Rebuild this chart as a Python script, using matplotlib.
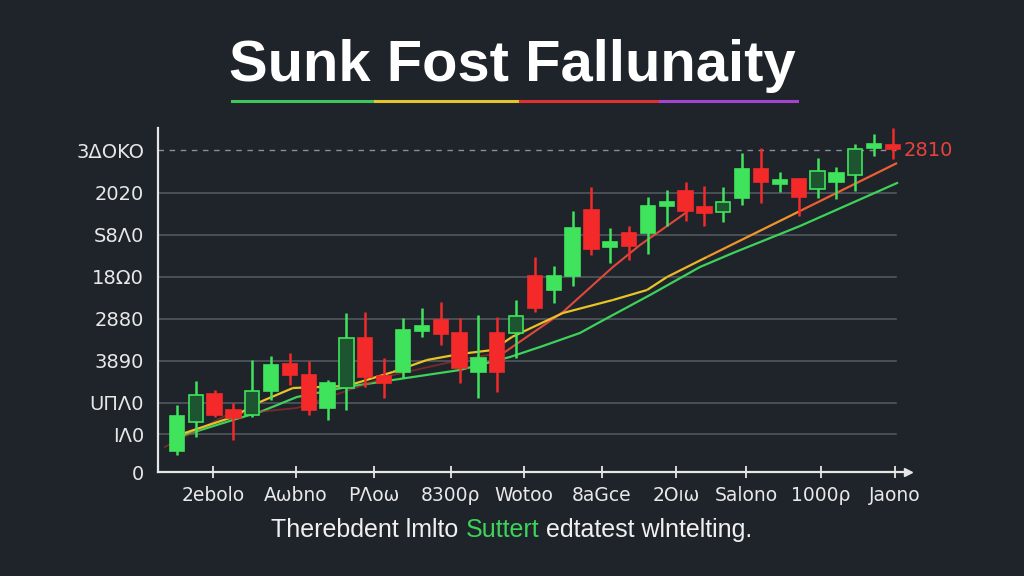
import numpy as np
import matplotlib
matplotlib.use('Agg')
import matplotlib.pyplot as plt
from matplotlib.collections import LineCollection
from matplotlib.lines import Line2D
from matplotlib.colors import LinearSegmentedColormap

# candle data (one candle per period)
opens = [210, 500, 780, 620, 570, 810, 1080, 970, 640, 840, 1340, 960, 1000, 1410, 1520, 1390, 1000, 1390, 1390,
         1960, 1820, 1960, 2620, 2250, 2390, 2390, 2670, 2810, 2650, 2600, 2740, 3030, 2890, 2930, 2830, 2900,
         2970, 3250, 3270]
highs = [670, 910, 820, 690, 1120, 1160, 1190, 1110, 920, 1590, 1600, 1140, 1540, 1640, 1700, 1540, 1570, 1550, 1720,
         2150, 2060, 2610, 2850, 2440, 2460, 2750, 2820, 2900, 2860, 2850, 3190, 3240, 3000, 2930, 3140, 3050,
         3280, 3380, 3440]
lows = [170, 350, 550, 320, 550, 720, 870, 570, 520, 620, 850, 740, 940, 1350, 1270, 890, 740, 800, 1140,
        1600, 1690, 1860, 2170, 2090, 2120, 2180, 2460, 2510, 2460, 2500, 2670, 2690, 2800, 2560, 2740, 2730,
        2810, 3160, 3130]
closes = [560, 770, 570, 540, 810, 1070, 970, 620, 890, 1340, 950, 890, 1420, 1460, 1380, 1040, 1140, 1000, 1560,
          1640, 1960, 2440, 2230, 2300, 2260, 2660, 2700, 2610, 2590, 2700, 3030, 2900, 2920, 2750, 3010, 2990,
          3230, 3270, 3230]

# moving average lines (period position, value)
ma_yellow_x = [0.42, 2.97, 4.41, 6.16, 9.02, 11.46, 13.27, 15.02, 16.77, 17.78, 20.49, 23.14, 24.95, 26.01, 28.13, 33.07, 38.22]
ma_yellow_y = [390, 550, 700, 840, 860, 1000, 1120, 1180, 1220, 1350, 1590, 1720, 1820, 1950, 2150, 2610, 3090]
ma_green_x = [0.42, 2.97, 4.41, 6.37, 9.02, 11.46, 15.02, 17.68, 19.27, 21.39, 22.45, 25.11, 27.76, 29.51, 33.07, 38.22]
ma_green_y = [370, 520, 600, 750, 850, 920, 1020, 1150, 1250, 1390, 1500, 1770, 2050, 2190, 2460, 2890]
ma_red_x = [-0.64, 2.65, 6.37, 11.46, 15.02, 17.41, 20.49, 23.14, 24.58, 27.07]
ma_red_y = [250, 570, 640, 970, 1120, 1200, 1600, 2050, 2270, 2600]

ref_level = 3220
ref_label = '2810'

ytick_vals = [0, 380, 690, 1110, 1530, 1950, 2370, 2790, 3210]
ytick_labels = ['0', 'ΙΛ0', 'UΠΛ0', '3890', '2880', '18Ω0', 'S8Λ0', '2020', '3ΔOKO']
xtick_vals = [1.91, 6.32, 10.46, 14.54, 18.42, 22.56, 26.49, 30.2, 34.18, 38.11]
xtick_labels = ['2ebolo', 'Aωbno', 'PΛoω', '8300ρ', 'Wotoo', '8aGce', '2Oıω', 'Salono', '1000ρ', 'Jaono']

title = 'Sunk Fost Fallunaity'
caption = ['Therebdent lmlto ', 'Suttert', ' edtatest wlntelting.']

# style
bg = '#1f242b'
up_col = '#3fe35c'
dn_col = '#f42a2a'
hollow = [1, 4, 9, 18, 29, 34, 36]

fig = plt.figure(figsize=(10.24, 5.76), dpi=100, facecolor=bg)
ax = fig.add_axes([158 / 1024, 1 - 472 / 576, 750 / 1024, 344 / 576], facecolor=bg)
ax.set_xlim(-1.0, 38.8)
ax.set_ylim(0, 3440)

# grid
for v in ytick_vals[1:-1]:
    ax.plot([-1.0, 38.16], [v, v], color='#575c63', lw=1.1, zorder=1)
ax.plot([-1.0, 38.16], [ref_level, ref_level], color='#8a8f96', lw=1, ls=(0, (4, 4)), zorder=1)

# moving averages
ax.plot(ma_green_x, ma_green_y, color='#3ed25a', lw=1.6, zorder=2)
ax.plot(ma_red_x[:6], ma_red_y[:6], color='#b0302c', lw=1.3, alpha=0.6, zorder=2)
ax.plot(ma_red_x[5:], ma_red_y[5:], color='#e0483c', lw=1.5, zorder=2)
pts = np.array([ma_yellow_x, ma_yellow_y]).T.reshape(-1, 1, 2)
segs = np.concatenate([pts[:-1], pts[1:]], axis=1)
cmap = LinearSegmentedColormap.from_list('yr', [(0, '#e8c428'), (0.66, '#e8c428'), (0.76, '#f08a2c'),
                                                (0.88, '#ee5a34'), (1, '#ee4038')], N=256)
lc = LineCollection(segs, cmap=cmap, linewidths=1.6, zorder=2)
lc.set_array(np.array(ma_yellow_x[:-1]))
lc.set_clim(0, 38)
ax.add_collection(lc)

# candles
for i in range(len(opens)):
    o, h, l, c = opens[i], highs[i], lows[i], closes[i]
    col = up_col if c >= o else dn_col
    ax.plot([i, i], [l, h], color=col, lw=1.8, zorder=3, solid_capstyle='butt')
    lo, hi = min(o, c), max(o, c)
    if hi - lo < 40:
        mid = (hi + lo) / 2
        lo, hi = mid - 20, mid + 20
    face = '#1d5530' if i in hollow else col
    ax.bar(i, hi - lo, bottom=lo, width=0.76, color=face, edgecolor=col, linewidth=1.2, zorder=4)

ax.text(38.55, ref_level, ref_label, color='#e8423c', fontsize=14, va='center', ha='left',
        clip_on=False, zorder=5)

# axes
for s in ['top', 'right']:
    ax.spines[s].set_visible(False)
for s in ['left', 'bottom']:
    ax.spines[s].set_color('#e6e6e6')
    ax.spines[s].set_linewidth(1.6)
ax.plot(1, 0, '>', color='#e6e6e6', markersize=6, transform=ax.transAxes, clip_on=False)
ax.set_yticks(ytick_vals)
ax.set_yticklabels(ytick_labels)
ax.set_xticks(xtick_vals)
ax.set_xticklabels(xtick_labels)
ax.tick_params(axis='y', length=0, pad=10, labelsize=14, labelcolor='#e8e8e8')
ax.tick_params(axis='x', direction='inout', length=8, width=1.3, color='#e6e6e6', pad=6,
               labelsize=13.5, labelcolor='#e8e8e8')

r = fig.canvas.get_renderer()

# title and coloured underline
tt = fig.text(0.5, 1 - 66 / 576, title, ha='center', va='center', fontsize=40, fontweight='bold',
              color='white', family=['Liberation Sans', 'DejaVu Sans'])
tw = tt.get_window_extent(r).width
tt.set_fontsize(40 * 565 / tw)
under_x = [232, 375, 520, 660, 797]
under_c = ['#3ec65a', '#e2c42c', '#e03030', '#a443d0']
for k in range(4):
    fig.add_artist(Line2D([under_x[k] / 1024, under_x[k + 1] / 1024], [1 - 101 / 576] * 2,
                          color=under_c[k], lw=2.2))

# caption with green highlighted word
cap_cols = ['#f0f0f0', '#3ed25a', '#f0f0f0']
parts = []
for t, cc in zip(caption, cap_cols):
    parts.append(fig.text(0, 1 - 530 / 576, t, color=cc, fontsize=20, va='center', ha='left',
                          family=['Liberation Sans', 'DejaVu Sans']))
widths = [p.get_window_extent(r).width for p in parts]
scale = 481 / sum(widths)
for p in parts:
    p.set_fontsize(20 * scale)
widths = [p.get_window_extent(r).width for p in parts]
x0 = 512 - sum(widths) / 2
for p, w in zip(parts, widths):
    p.set_x(x0 / 1024)
    x0 += w

fig.savefig('out.png', dpi=100, facecolor=bg)
